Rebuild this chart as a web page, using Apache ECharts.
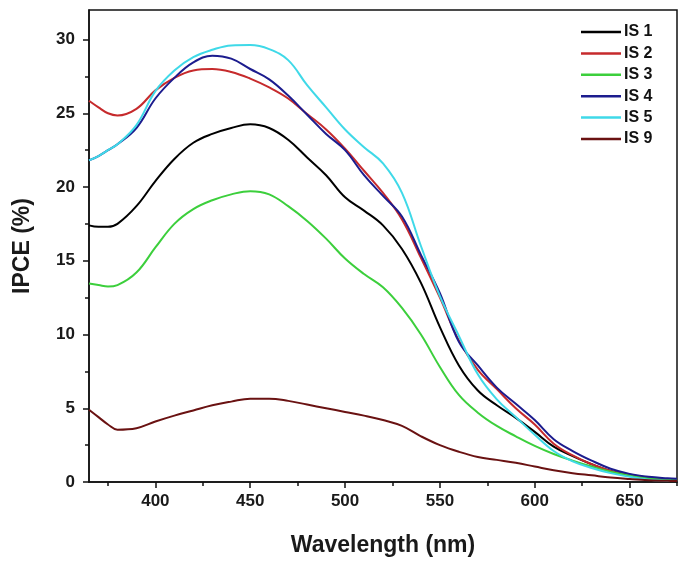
<!DOCTYPE html>
<html>
<head>
<meta charset="utf-8">
<script src="https://cdn.jsdelivr.net/npm/echarts@6/dist/echarts.min.js"></script>
<style>
  html, body { margin: 0; padding: 0; background: #fff; }
  #chart { width: 685px; height: 565px; }
</style>
</head>
<body>
<div id="chart"></div>
<script>
var wavelength = [365, 370, 375, 380, 390, 400, 410, 420, 430, 440, 450, 460, 470, 480, 490, 500,
  510, 520, 530, 540, 550, 560, 570, 580, 590, 600, 610, 620, 630, 640, 650, 660, 670, 675];

var is1 = [17.4, 17.3, 17.3, 17.5, 18.7, 20.4, 21.9, 23.0, 23.6, 24.0, 24.25, 24.0, 23.2, 22.0, 20.8, 19.3,
  18.4, 17.4, 15.8, 13.5, 10.5, 7.9, 6.2, 5.2, 4.35, 3.4, 2.4, 1.75, 1.2, 0.75, 0.5, 0.3, 0.18, 0.15];
var is2 = [25.85, 25.4, 25.0, 24.85, 25.3, 26.55, 27.4, 27.9, 28.0, 27.8, 27.35, 26.75, 26.0, 24.95, 23.9, 22.6,
  21.1, 19.6, 17.8, 15.2, 12.5, 9.6, 7.6, 6.3, 5.0, 3.9, 2.6, 1.8, 1.2, 0.75, 0.45, 0.28, 0.18, 0.15];
var is3 = [13.45, 13.35, 13.25, 13.35, 14.2, 15.9, 17.5, 18.5, 19.1, 19.5, 19.72, 19.5, 18.7, 17.7, 16.5, 15.15,
  14.1, 13.2, 11.8, 10.0, 7.8, 5.9, 4.7, 3.8, 3.1, 2.45, 1.9, 1.45, 1.05, 0.7, 0.45, 0.25, 0.15, 0.12];
var is4 = [21.8, 22.1, 22.5, 22.9, 24.0, 26.0, 27.4, 28.45, 28.9, 28.7, 28.0, 27.3, 26.2, 24.9, 23.6, 22.5,
  20.8, 19.4, 18.0, 15.4, 12.8, 9.5, 7.9, 6.4, 5.3, 4.2, 2.9, 2.1, 1.45, 0.9, 0.55, 0.35, 0.25, 0.22];
var is5 = [21.8, 22.1, 22.5, 22.9, 24.2, 26.5, 27.9, 28.8, 29.3, 29.6, 29.62, 29.35, 28.6, 26.9, 25.4, 23.9,
  22.7, 21.6, 19.6, 16.0, 12.6, 9.9, 7.3, 5.6, 4.4, 3.2, 2.1, 1.4, 0.95, 0.6, 0.35, 0.15, 0.08, 0.06];
var is9 = [4.9, 4.4, 3.9, 3.55, 3.65, 4.1, 4.5, 4.85, 5.2, 5.45, 5.65, 5.65, 5.5, 5.25, 5.0, 4.75,
  4.5, 4.2, 3.8, 3.1, 2.5, 2.05, 1.7, 1.5, 1.3, 1.05, 0.8, 0.6, 0.45, 0.3, 0.2, 0.12, 0.08, 0.06];

var seriesNames = ['IS 1', 'IS 2', 'IS 3', 'IS 4', 'IS 5', 'IS 9'];
var seriesColors = ['#000000', '#c62a2c', '#3ccf3c', '#1c1c8e', '#3fd9e8', '#6a1212'];
var seriesValues = [is1, is2, is3, is4, is5, is9];

var xMajorTicks = [400, 450, 500, 550, 600, 650];
var xMinorTicks = [375, 425, 475, 525, 575, 625, 675];
var yMajorTicks = [0, 5, 10, 15, 20, 25, 30];
var yMinorTicks = [2.5, 7.5, 12.5, 17.5, 22.5, 27.5];

var chartDom = document.getElementById('chart');
var myChart = echarts.init(chartDom);
var option;

var labelFont = { fontFamily: 'Arial, Liberation Sans', fontWeight: 'bold', fontSize: 17, color: '#1a1a1a' };
var nameFont = { fontFamily: 'Arial, Liberation Sans', fontWeight: 'bold', fontSize: 23, color: '#1a1a1a' };

option = {
  animation: false,
  backgroundColor: '#fff',
  grid: {
    left: 89, right: 8, top: 10, bottom: 83,
    show: true, borderColor: '#111', borderWidth: 1.5
  },
  legend: {
    orient: 'vertical',
    left: 576,
    top: 19,
    icon: 'rect',
    itemWidth: 40,
    itemHeight: 2.5,
    itemGap: 5.4,
    textStyle: { fontFamily: 'Arial, Liberation Sans', fontWeight: 'bold', fontSize: 16, color: '#111', padding: [0, 0, 0, -2] },
    data: seriesNames
  },
  xAxis: [
    {
      type: 'value', min: 365, max: 675,
      name: 'Wavelength (nm)', nameLocation: 'middle', nameGap: 52, nameTextStyle: nameFont,
      splitLine: { show: false },
      axisLine: { lineStyle: { color: '#111', width: 1.5 } },
      axisTick: { customValues: xMajorTicks, length: 6, lineStyle: { color: '#111', width: 1.5 } },
      axisLabel: Object.assign({ customValues: xMajorTicks, margin: 11 }, labelFont)
    },
    {
      type: 'value', min: 365, max: 675, position: 'bottom',
      splitLine: { show: false },
      axisLine: { show: false },
      axisTick: { customValues: xMinorTicks, length: 4, lineStyle: { color: '#111', width: 1.5 } },
      axisLabel: { show: false }
    }
  ],
  yAxis: [
    {
      type: 'value', min: 0, max: 32,
      name: 'IPCE (%)', nameLocation: 'middle', nameGap: 55, nameTextStyle: nameFont,
      splitLine: { show: false },
      axisLine: { show: true, lineStyle: { color: '#111', width: 1.5 } },
      axisTick: { show: true, customValues: yMajorTicks, length: 6, lineStyle: { color: '#111', width: 1.5 } },
      axisLabel: Object.assign({ customValues: yMajorTicks, margin: 14 }, labelFont)
    },
    {
      type: 'value', min: 0, max: 32, position: 'left',
      splitLine: { show: false },
      axisLine: { show: false },
      axisTick: { show: true, customValues: yMinorTicks, length: 4, lineStyle: { color: '#111', width: 1.5 } },
      axisLabel: { show: false }
    }
  ],
  series: seriesNames.map(function (name, i) {
    return {
      name: name,
      type: 'line',
      smooth: 0.4,
      symbol: 'none',
      color: seriesColors[i],
      lineStyle: { width: 2, color: seriesColors[i] },
      data: wavelength.map(function (w, j) { return [w, seriesValues[i][j]]; })
    };
  })
};

option && myChart.setOption(option);
</script>
</body>
</html>
